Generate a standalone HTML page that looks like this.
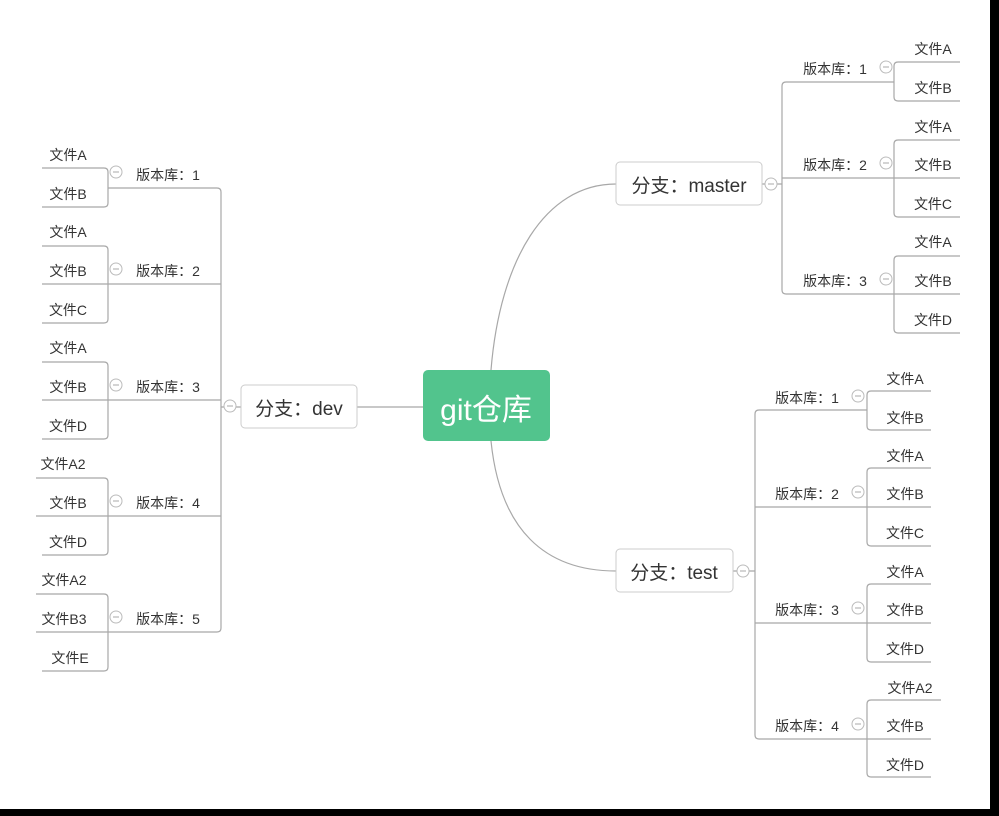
<!DOCTYPE html>
<html><head><meta charset="utf-8"><style>
html,body{margin:0;padding:0;background:#fff;}
svg{display:block;}
text{font-family:"Liberation Sans","Noto Sans CJK SC",sans-serif;fill:#333;}
.f{font-size:14px;}
.v{font-size:14px;}
.b{font-size:19px;}
</style></head><body>
<svg width="999" height="816" viewBox="0 0 999 816" xmlns="http://www.w3.org/2000/svg">
<rect width="999" height="816" fill="#fff"/>
<g fill="none" stroke="#a8a8a8" stroke-width="1.2">
<!-- center connections -->
<path d="M491,370 C500,260 545,184 616,184"/>
<path d="M491,441 C500,530 545,571 616,571"/>
<path d="M357,407 H423"/>
<!-- master -->
<path d="M762,184 H782"/>
<path d="M894,82 H786 Q782,82 782,86 V290 Q782,294 786,294 H894"/>
<path d="M782,178 H894"/>
<path d="M960,62 H898 Q894,62 894,66 V97 Q894,101 898,101 H960"/>
<path d="M960,140 H898 Q894,140 894,144 V213 Q894,217 898,217 H960"/><path d="M894,178 H960"/>
<path d="M960,256 H898 Q894,256 894,260 V329 Q894,333 898,333 H960"/><path d="M894,294 H960"/>
<!-- test -->
<path d="M733,571 H755"/>
<path d="M867,410 H759 Q755,410 755,414 V735 Q755,739 759,739 H867"/>
<path d="M755,507 H867"/><path d="M755,623 H867"/>
<path d="M931,391 H871 Q867,391 867,395 V426 Q867,430 871,430 H931"/>
<path d="M931,468 H871 Q867,468 867,472 V542 Q867,546 871,546 H931"/><path d="M867,507 H931"/>
<path d="M931,584 H871 Q867,584 867,588 V658 Q867,662 871,662 H931"/><path d="M867,623 H931"/>
<path d="M941,700 H871 Q867,700 867,704 V773 Q867,777 871,777 H931"/><path d="M867,739 H931"/>
<!-- dev -->
<path d="M241,407 H221"/>
<path d="M108,188 H217 Q221,188 221,192 V628 Q221,632 217,632 H108"/>
<path d="M108,284 H221"/><path d="M108,400 H221"/><path d="M108,516 H221"/>
<path d="M42,168 H104 Q108,168 108,172 V203 Q108,207 104,207 H42"/>
<path d="M42,246 H104 Q108,246 108,250 V319 Q108,323 104,323 H42"/><path d="M42,284 H108"/>
<path d="M42,362 H104 Q108,362 108,366 V435 Q108,439 104,439 H42"/><path d="M42,400 H108"/>
<path d="M36,478 H104 Q108,478 108,482 V551 Q108,555 104,555 H42"/><path d="M36,516 H108"/>
<path d="M36,594 H104 Q108,594 108,598 V667 Q108,671 104,671 H42"/><path d="M36,632 H108"/>
</g>
<!-- collapse circles -->
<g fill="#fff" stroke="#bbb" stroke-width="1">
<circle cx="771" cy="184" r="6"/><circle cx="886" cy="67" r="6"/><circle cx="886" cy="163" r="6"/><circle cx="886" cy="279" r="6"/>
<circle cx="743" cy="571" r="6"/><circle cx="858" cy="396" r="6"/><circle cx="858" cy="492" r="6"/><circle cx="858" cy="608" r="6"/><circle cx="858" cy="724" r="6"/>
<circle cx="230" cy="406" r="6"/><circle cx="116" cy="172" r="6"/><circle cx="116" cy="269" r="6"/><circle cx="116" cy="385" r="6"/><circle cx="116" cy="501" r="6"/><circle cx="116" cy="617" r="6"/>
</g>
<g stroke="#aaa" stroke-width="1">
<path d="M768,184h6M883,67h6M883,163h6M883,279h6M740,571h6M855,396h6M855,492h6M855,608h6M855,724h6M227,406h6M113,172h6M113,269h6M113,385h6M113,501h6M113,617h6"/>
</g>
<!-- nodes -->
<rect x="423" y="370" width="127" height="71" rx="5" fill="#52c48d"/>
<text x="486" y="420" text-anchor="middle" style="font-size:30px;fill:#fff">git仓库</text>
<rect x="616" y="162" width="146" height="43" rx="4" fill="#fff" stroke="#ccc"/>
<text x="689" y="192" text-anchor="middle" class="b">分支：master</text>
<rect x="616" y="549" width="117" height="43" rx="4" fill="#fff" stroke="#ccc"/>
<text x="674" y="579" text-anchor="middle" class="b">分支：test</text>
<rect x="241" y="385" width="116" height="43" rx="4" fill="#fff" stroke="#ccc"/>
<text x="299" y="415" text-anchor="middle" class="b">分支：dev</text>
<!-- master versions -->
<g class="v">
<text x="835" y="74" text-anchor="middle">版本库：1</text>
<text x="835" y="170" text-anchor="middle">版本库：2</text>
<text x="835" y="286" text-anchor="middle">版本库：3</text>
<text x="807" y="403" text-anchor="middle">版本库：1</text>
<text x="807" y="499" text-anchor="middle">版本库：2</text>
<text x="807" y="615" text-anchor="middle">版本库：3</text>
<text x="807" y="731" text-anchor="middle">版本库：4</text>
<text x="168" y="180" text-anchor="middle">版本库：1</text>
<text x="168" y="276" text-anchor="middle">版本库：2</text>
<text x="168" y="392" text-anchor="middle">版本库：3</text>
<text x="168" y="508" text-anchor="middle">版本库：4</text>
<text x="168" y="624" text-anchor="middle">版本库：5</text>
</g>
<g class="f" text-anchor="middle">
<text x="933" y="54">文件A</text><text x="933" y="93">文件B</text>
<text x="933" y="132">文件A</text><text x="933" y="170">文件B</text><text x="933" y="209">文件C</text>
<text x="933" y="247">文件A</text><text x="933" y="286">文件B</text><text x="933" y="325">文件D</text>
<text x="905" y="384">文件A</text><text x="905" y="423">文件B</text>
<text x="905" y="461">文件A</text><text x="905" y="499">文件B</text><text x="905" y="538">文件C</text>
<text x="905" y="577">文件A</text><text x="905" y="615">文件B</text><text x="905" y="654">文件D</text>
<text x="910" y="693">文件A2</text><text x="905" y="731">文件B</text><text x="905" y="770">文件D</text>
<text x="68" y="160">文件A</text><text x="68" y="199">文件B</text>
<text x="68" y="237">文件A</text><text x="68" y="276">文件B</text><text x="68" y="315">文件C</text>
<text x="68" y="353">文件A</text><text x="68" y="392">文件B</text><text x="68" y="431">文件D</text>
<text x="63" y="469">文件A2</text><text x="68" y="508">文件B</text><text x="68" y="547">文件D</text>
<text x="64" y="585">文件A2</text><text x="64" y="624">文件B3</text><text x="70" y="663">文件E</text>
</g>
<!-- black borders -->
<rect x="990" y="0" width="9" height="816" fill="#000"/>
<rect x="0" y="809" width="999" height="7" fill="#000"/>
</svg>
</body></html>
